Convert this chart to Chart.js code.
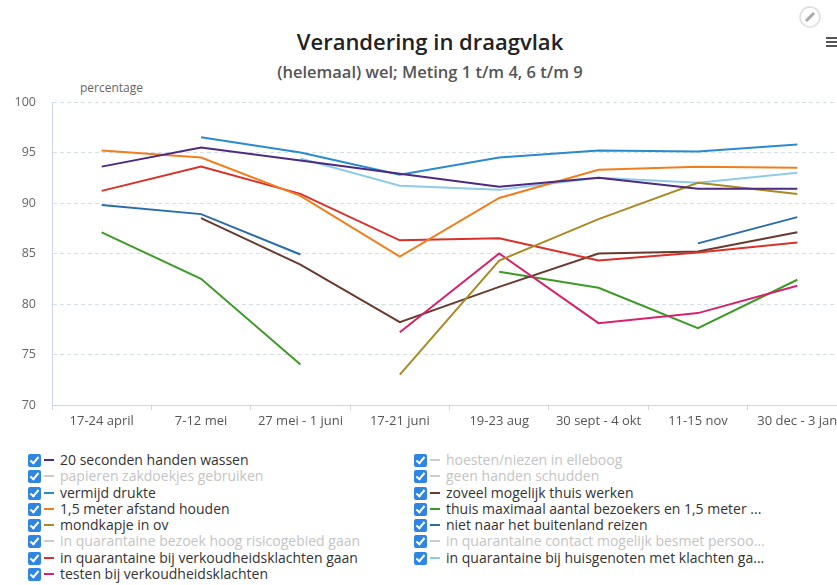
<!DOCTYPE html>
<html>
<head>
<meta charset="utf-8">
<script src="https://cdn.jsdelivr.net/npm/chart.js@4"></script>
<style>
	html, body { margin: 0; padding: 0; background: #fff; }
	body { width: 837px; height: 585px; overflow: hidden; position: relative; font-family: "Open Sans", sans-serif; }
	#wrap { position: absolute; left: 0; top: 0; width: 847px; height: 440px; }
	.title { position: absolute; left: 0; width: 860px; top: 26px; text-align: center; font-size: 22px; font-weight: 600; color: #222; }
	.subtitle { position: absolute; left: 0; width: 860px; top: 60px; text-align: center; font-size: 16.5px; font-weight: 600; color: #555; }
	.ytitle { position: absolute; left: 80px; top: 79px; font-size: 12px; color: #666; }
	.legend { position: absolute; top: 452px; font-size: 14px; line-height: 16.3px; }
	.legend div { white-space: nowrap; height: 16.3px; }
	.box { display: inline-block; width: 13px; height: 13px; background: #2f86e0; border-radius: 2px; vertical-align: -2px; position: relative; }
	.box::after { content: ""; position: absolute; left: 4px; top: 1px; width: 3px; height: 7px; border: solid #fff; border-width: 0 2px 2px 0; transform: rotate(40deg); }
	.dash { display: inline-block; width: 10px; height: 2px; vertical-align: 4px; margin: 0 6px 0 3px; }
	.menu { position: absolute; left: 826px; top: 37px; width: 11px; }
	.menu span { display: block; height: 2px; background: #555; margin-bottom: 2px; }
</style>
</head>
<body>
<div class="title">Verandering in draagvlak</div>
<div class="subtitle">(helemaal) wel; Meting 1 t/m 4, 6 t/m 9</div>
<div class="ytitle">percentage</div>
<svg style="position:absolute;left:798px;top:5px" width="24" height="24">
	<circle cx="12" cy="12" r="10" fill="none" stroke="#ddd" stroke-width="1.5"/>
	<line x1="8" y1="16" x2="16" y2="8" stroke="#aaa" stroke-width="3"/>
</svg>
<div class="menu"><span></span><span></span><span></span></div>
<div id="wrap"><canvas id="chart" width="847" height="440"></canvas></div>
<div class="legend" id="leg1" style="left:28px"></div>
<div class="legend" id="leg2" style="left:414px"></div>

<script>
var categories = ["17-24 april", "7-12 mei", "27 mei - 1 juni", "17-21 juni", "19-23 aug", "30 sept - 4 okt", "11-15 nov", "30 dec - 3 jan"];

// waarden per maatregel (lege reeks = uitgeschakeld in legenda)
var handenWassen = [93.6, 95.5, 94.2, 92.9, 91.6, 92.5, 91.4, 91.4];
var zakdoekjes = [];
var vermijdDrukte = [null, 96.5, 95.0, 92.8, 94.5, 95.2, 95.1, 95.8];
var afstand = [95.2, 94.5, 90.7, 84.7, 90.5, 93.3, 93.6, 93.5];
var mondkapje = [null, null, null, 73.0, 84.3, 88.4, 92.0, 90.9];
var risicogebied = [];
var quarantaineKlachten = [91.2, 93.6, 90.9, 86.3, 86.5, 84.3, 85.1, 86.1];
var testen = [null, null, null, 77.2, 85.0, 78.1, 79.1, 81.8];
var hoesten = [];
var handenSchudden = [];
var thuisWerken = [null, 88.5, 83.9, 78.2, 81.7, 85.0, 85.2, 87.1];
var bezoekers = [87.1, 82.5, 74.0, null, 83.2, 81.6, 77.6, 82.4];
var buitenland = [89.8, 88.9, 84.9, null, null, null, 86.0, 88.6];
var besmetPersoon = [];
var huisgenoten = [null, null, 94.4, 91.7, 91.3, 92.5, 92.0, 93.0];

var series = [
	{ label: "20 seconden handen wassen", data: handenWassen, color: "#4e2a80" },
	{ label: "papieren zakdoekjes gebruiken", data: zakdoekjes, color: "#ccc", hidden: true },
	{ label: "vermijd drukte", data: vermijdDrukte, color: "#2a8ad0" },
	{ label: "1,5 meter afstand houden", data: afstand, color: "#f07e1c" },
	{ label: "mondkapje in ov", data: mondkapje, color: "#aa8a24" },
	{ label: "in quarantaine bezoek hoog risicogebied gaan", data: risicogebied, color: "#ccc", hidden: true },
	{ label: "in quarantaine bij verkoudheidsklachten gaan", data: quarantaineKlachten, color: "#d9302a" },
	{ label: "testen bij verkoudheidsklachten", data: testen, color: "#d6226c" },
	{ label: "hoesten/niezen in elleboog", data: hoesten, color: "#ccc", hidden: true },
	{ label: "geen handen schudden", data: handenSchudden, color: "#ccc", hidden: true },
	{ label: "zoveel mogelijk thuis werken", data: thuisWerken, color: "#6a3a2e" },
	{ label: "thuis maximaal aantal bezoekers en 1,5 meter ...", data: bezoekers, color: "#3d9a28" },
	{ label: "niet naar het buitenland reizen", data: buitenland, color: "#2a6caa" },
	{ label: "in quarantaine contact mogelijk besmet persoo...", data: besmetPersoon, color: "#ccc", hidden: true },
	{ label: "in quarantaine bij huisgenoten met klachten ga...", data: huisgenoten, color: "#8ecbea" }
];

var datasets = series.map(function (s) {
	return {
		label: s.label,
		data: s.data,
		borderColor: s.color,
		backgroundColor: s.color,
		borderWidth: 2,
		pointRadius: 0,
		tension: 0,
		spanGaps: false,
		hidden: !!s.hidden,
	};
});

// legenda in twee kolommen
series.forEach(function (s, i) {
	var row = document.createElement("div");
	var txt = s.hidden ? "#c4c4c4" : "#333";
	row.innerHTML = '<span class="box"></span><span class="dash" style="background:' + s.color + '"></span><span style="color:' + txt + '">' + s.label + "</span>";
	document.getElementById(i < 8 ? "leg1" : "leg2").appendChild(row);
});

var ctx = document.getElementById("chart");
var myLineChart = new Chart(ctx, {
	type: "line",
	data: {
		labels: categories,
		datasets: datasets,
	},
	options: {
		responsive: false,
		animation: false,
		devicePixelRatio: 1,
		layout: {
			padding: { top: 102, left: 0, right: 0, bottom: 0 },
		},
		plugins: {
			legend: { display: false },
			tooltip: { enabled: false },
		},
		scales: {
			x: {
				offset: true,
				afterFit: function (scale) { scale.height = 35; },
				grid: { drawOnChartArea: false, drawTicks: true, tickLength: 5, color: "#ccd6eb", offset: true },
				border: { display: true, color: "#ccd6eb" },
				ticks: { color: "#555", font: { family: "Open Sans", size: 13 }, padding: 3, maxRotation: 0, autoSkip: false },
			},
			y: {
				min: 70,
				max: 100,
				afterFit: function (scale) { scale.width = 52; },
				grid: { color: "#d6dee8", drawTicks: false },
				border: { display: true, color: "#ccd6eb", dash: [4, 3] },
				ticks: { stepSize: 5, color: "#666", font: { family: "Open Sans", size: 12.5 }, padding: 16 },
			},
		},
	},
});
</script>
</body>
</html>
